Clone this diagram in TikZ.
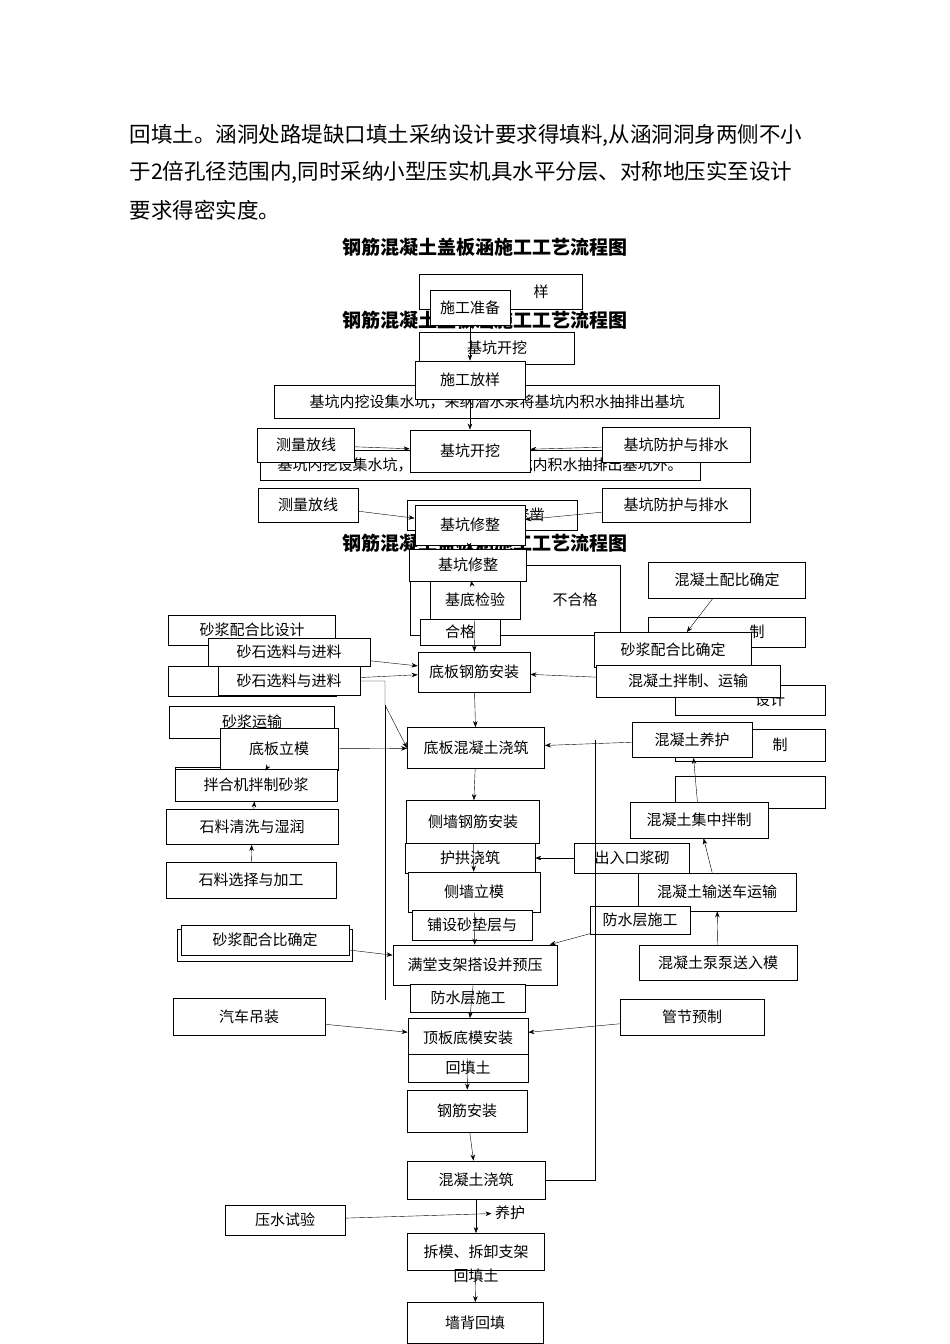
\documentclass[tikz,border=0pt]{standalone}
\usepackage{fontspec}
\setmainfont{Noto Sans CJK SC}
\usetikzlibrary{arrows.meta}
\begin{document}
\begin{tikzpicture}[x=1pt,y=-1pt,
  bx/.style={draw,thick,fill=white,inner sep=0pt,font=\fontsize{15}{17}\selectfont},
  gx/.style={draw,thin,fill=white,inner sep=0pt,font=\fontsize{15}{17}\selectfont},
  ar/.style={-{Stealth[length=6pt]},thin},
  para/.style={anchor=west,font=\fontsize{21.5}{24}\selectfont},
  ttl/.style={font=\fontsize{19}{22}\selectfont\bfseries}]
\useasboundingbox (0,0) rectangle (950,1344);
\fill[white] (0,0) rectangle (950,1344);
\node[para] (p1) at (126,135) {回填土。涵洞处路堤缺口填土采纳设计要求得填料,从涵洞洞身两侧不小};
\node[para] (p2) at (126,172) {于2倍孔径范围内,同时采纳小型压实机具水平分层、对称地压实至设计};
\node[para] (p3) at (126,210) {要求得密实度。};
\node[ttl] (t1) at (485,247) {钢筋混凝土盖板涵施工工艺流程图};
% background ghost boxes
\node[gx,minimum width=163,minimum height=35] (g1) at (501,292) {\hspace*{80pt}样};
\node[gx,minimum width=155,minimum height=32] (g2) at (497,348) {基坑开挖};
\node[ttl] (t2) at (485,320) {钢筋混凝土盖板涵施工工艺流程图};
\node[gx,minimum width=445,minimum height=33] (g3) at (497,402) {基坑内挖设集水坑，采纳潜水泵将基坑内积水抽排出基坑};
\node[gx,minimum width=440,minimum height=30] (g4) at (480,465) {基坑内挖设集水坑，采纳潜水泵将基坑内积水抽排出基坑外。};
\node[gx,minimum width=170,minimum height=30] (g5) at (492,515) {基坑开挖\quad 修凿};
\node[ttl] (t3) at (485,543) {钢筋混凝土盖板涵施工工艺流程图};
\node[gx,minimum width=210,minimum height=70] (g6) at (515,600) {\hspace*{120pt}不合格};
\node[gx,minimum width=167,minimum height=30] (g7) at (252,630) {砂浆配合比设计};
\node[gx,minimum width=157,minimum height=30] (g8) at (727,632) {\hspace*{60pt}制};
\node[gx,minimum width=168,minimum height=30] (g9) at (252,681) {拌合};
\node[gx,minimum width=150,minimum height=30] (g10) at (750,700) {\hspace*{40pt}设计};
\node[gx,minimum width=165,minimum height=32] (g11) at (252,722) {砂浆运输};
\node[gx,minimum width=150,minimum height=32] (g12) at (750,745) {\hspace*{60pt}制};
\node[gx,minimum width=160,minimum height=32] (g13) at (255,783) {};
\node[gx,minimum width=150,minimum height=32] (g14) at (750,792) {};
\node[gx,minimum width=175,minimum height=32] (g15) at (265,945) {};
% main boxes
\node[bx,minimum width=80,minimum height=35] (a1) at (470,308) {施工准备};
\node[bx,minimum width=110,minimum height=38] (a2) at (470,380) {施工放样};
\node[bx,minimum width=97,minimum height=34] (l1) at (306,445) {测量放线};
\node[bx,minimum width=120,minimum height=42] (a3) at (470,451) {基坑开挖};
\node[bx,minimum width=148,minimum height=35] (r1) at (676,445) {基坑防护与排水};
\node[bx,minimum width=100,minimum height=34] (l2) at (308,505) {测量放线};
\node[bx,minimum width=148,minimum height=34] (r2) at (676,505) {基坑防护与排水};
\node[bx,minimum width=110,minimum height=40] (a4) at (470,525) {基坑修整};
\node[bx,minimum width=117,minimum height=32] (a5) at (468,565) {基坑修整};
\node[bx,minimum width=90,minimum height=38] (a6) at (475,600) {基底检验};
\node[bx,minimum width=157,minimum height=36] (r3) at (727,580) {混凝土配比确定};
\node[gx,minimum width=80,minimum height=26] (g16) at (460,632) {合格};
\node[bx,minimum width=162,minimum height=28] (l3) at (289,652) {砂石选料与进料};
\node[bx,minimum width=142,minimum height=29] (l4) at (289,681) {砂石选料与进料};
\node[bx,minimum width=112,minimum height=40] (a7) at (474,672) {底板钢筋安装};
\node[bx,minimum width=157,minimum height=35] (r4) at (673,650) {砂浆配合比确定};
\node[bx,minimum width=184,minimum height=32] (r5) at (688,681) {混凝土拌制、运输};
\node[bx,minimum width=118,minimum height=42] (l5) at (279,749) {底板立模};
\node[bx,minimum width=137,minimum height=41] (a8) at (476,748) {底板混凝土浇筑};
\node[bx,minimum width=120,minimum height=35] (r6) at (692,740) {混凝土养护};
\node[bx,minimum width=162,minimum height=32] (l6) at (256,785) {拌合机拌制砂浆};
\node[bx,minimum width=138,minimum height=36] (r7) at (699,820) {混凝土集中拌制};
\node[bx,minimum width=172,minimum height=35] (l7) at (252,827) {石料清洗与湿润};
\node[bx,minimum width=133,minimum height=43] (a9) at (473,822) {侧墙钢筋安装};
\node[gx,minimum width=130,minimum height=30] (a10) at (470,858) {护拱浇筑};
\node[gx,minimum width=115,minimum height=30] (r8) at (632,858) {出入口浆砌};
\node[bx,minimum width=170,minimum height=36] (l8) at (251,880) {石料选择与加工};
\node[bx,minimum width=132,minimum height=40] (a11) at (474,892) {侧墙立模};
\node[bx,minimum width=158,minimum height=38] (r9) at (717,892) {混凝土输送车运输};
\node[gx,minimum width=100,minimum height=28] (r10) at (640,920) {防水层施工};
\node[gx,minimum width=120,minimum height=30] (a12) at (472,925) {铺设砂垫层与};
\node[gx,minimum width=168,minimum height=30] (l9) at (265,940) {砂浆配合比确定};
\node[bx,minimum width=164,minimum height=40] (a13) at (475,965) {满堂支架搭设并预压};
\node[bx,minimum width=158,minimum height=35] (r11) at (718,963) {混凝土泵泵送入模};
\node[gx,minimum width=115,minimum height=28] (a14) at (468,998) {防水层施工};
\node[bx,minimum width=152,minimum height=37] (l10) at (249,1017) {汽车吊装};
\node[bx,minimum width=144,minimum height=36] (r12) at (692,1017) {管节预制};
\node[bx,minimum width=120,minimum height=39] (a15) at (468,1038) {顶板底模安装};
\node[gx,minimum width=120,minimum height=28] (a16) at (468,1068) {回填土};
\node[bx,minimum width=120,minimum height=42] (a17) at (467,1111) {钢筋安装};
\node[bx,minimum width=138,minimum height=38] (a18) at (476,1180) {混凝土浇筑};
\node[bx,minimum width=120,minimum height=30] (l11) at (285,1220) {压水试验};
\node[font=\fontsize{15}{17}\selectfont] (a19) at (510,1213) {养护};
\node[bx,minimum width=137,minimum height=37] (a20) at (476,1252) {拆模、拆卸支架};
\node[font=\fontsize{15}{17}\selectfont] (a21) at (476,1276) {回填土};
\node[bx,minimum width=136,minimum height=41] (a22) at (475,1323) {墙背回填};
% connectors
\draw[ar] (a1) -- (a2);
\draw[ar] (a2) -- (a3);
\draw[ar] (l1) -- (a3);
\draw[ar] (r1) -- (a3);
\draw[ar] (l2) -- (a4);
\draw[ar] (r2) -- (a4);
\draw[ar] (a4) -- (a5);
\draw[ar] (a5) -- (a6);
\draw[ar] (r3) -- (r4);
\draw[ar] (a6) -- (a7);
\draw[ar] (l3) -- (a7);
\draw[ar] (l4) -- (a7);
\draw[ar] (r5) -- (a7);
\draw[ar] (a7) -- (a8);
\draw[ar] (l5) -- (a8);
\draw[ar] (r6) -- (a8);
\draw[ar] (l6) -- (l5);
\draw[ar] (l7) -- (l6);
\draw[ar] (l8) -- (l7);
\draw[ar] (a8) -- (a9);
\draw[ar] (r7) -- (r6);
\draw[ar] (r9) -- (r7);
\draw[ar] (r11) -- (r9);
\draw[ar] (a9) -- (a11);
\draw[ar] (r8) -- (a10);
\draw[ar] (a11) -- (a13);
\draw[ar] (l9) -- (a13);
\draw[ar] (r10) -- (a13);
\draw[ar] (a13) -- (a15);
\draw[ar] (l10) -- (a15);
\draw[ar] (r12) -- (a15);
\draw[ar] (a15) -- (a17);
\draw[ar] (a17) -- (a18);
\draw[ar] (a18) -- (a20);
\draw[ar] (l11) -- (a19);
\draw[ar] (a20) -- (a22);
\coordinate (rv1) at (595,740);
\coordinate (rv2) at (595,1180);
\draw (rv1) -- (rv2) -- (a18.east);
\coordinate (lv1) at (385,705);
\coordinate (lv2) at (385,1000);
\draw (lv1) -- (lv2);
\draw[ar] (l4.east) -| (lv1) -- (a8.west);
\end{tikzpicture}
\end{document}
